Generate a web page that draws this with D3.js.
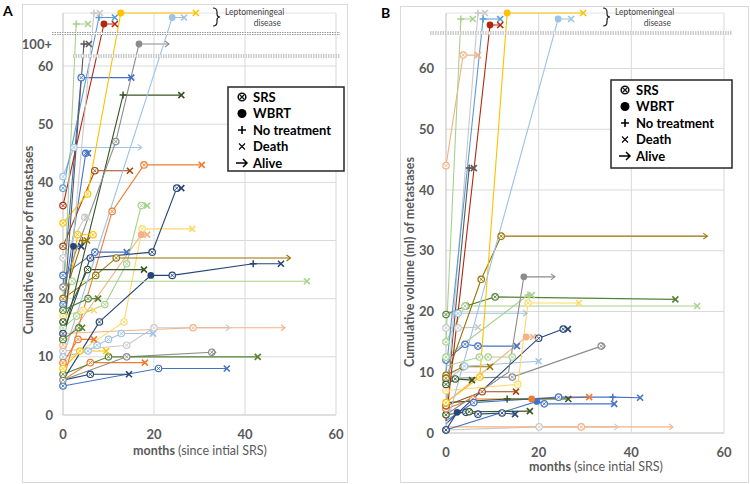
<!DOCTYPE html>
<html>
<head>
<meta charset="utf-8">
<script src="https://cdn.jsdelivr.net/npm/d3@7"></script>
<style>
body { margin: 0; background: #fff; }
svg { display: block; font-family: Lato, "Open Sans", sans-serif; }
</style>
</head>
<body>
<script>
// colour keys used by the series
var palette = {
  BL: "#4472C4", LB: "#9DC3E6", MB: "#5B9BD5", DB: "#264478",
  OR: "#ED7D31", PO: "#F4B183", BR: "#9E480E", RD: "#B4260C",
  GR: "#8C8C8C", LG: "#C9C9C9", DG: "#595959",
  GO: "#FFC000", PG: "#FFD966", DGo: "#997300",
  GN: "#548235", LGN: "#A9D18E", DGN: "#375623"
}

// y codes above the break: 100 = "100+", 180/190/200 = leptomeningeal rows
var monthTicks = [0, 20, 40, 60]
var valueTicks = [0, 10, 20, 30, 40, 50, 60]
var legendItems = ["SRS", "WBRT", "No treatment", "Death", "Alive"]
var legendKeys = ["s", "w", "p", "x", "a"]

// panel A : cumulative number of metastases  [month, value, marker]
var pathsA = [
  [[0,5,"s"],[21,8,"s"],[36,8,"x"]],
  [[0,6,""],[6,7,"s"],[14.5,7,"x"]],
  [[0,6,""],[6,9,"s"],[18,9,"x"]],
  [[0,6,"s"],[14,10,"s"],[32.7,10.8,"sa"]],
  [[0,7,"s"],[10,10,"s"],[42.8,10,"x"]],
  [[0,11,"s"],[14,12,"s"],[20,15,"s"],[36.7,15,"a"]],
  [[0,14,"s"],[28.6,15,"s"],[48.8,15,"a"]],
  [[0,10,"s"],[5.5,11,"s"],[7.5,12,"s"],[10,13,"s"],[12.8,14,"s"],[19.8,14,"x"]],
  [[0,9,"s"],[3.3,13,"s"],[6.8,13,"x"]],
  [[0,8,"s"],[3.7,11,"s"],[9.5,11,"x"]],
  [[0,17,"s"],[4.4,18,"s"],[6.8,18,"x"]],
  [[0,9,""],[13.4,16,"s"],[17.4,32,"s"],[28.4,32,"x"]],
  [[0,12,"s"],[17.2,31,"w"],[18.5,31,"x"]],
  [[0,15,"s"],[3,17,"s"],[9.2,19,"s"],[14,26,"s"],[17.2,36,"s"],[18.5,36,"x"]],
  [[0,6,""],[10.8,35,"s"],[17.8,43,"s"],[30.5,43,"x"]],
  [[0,6,""],[8,16,"s"],[19.3,24,"w"],[24,24,"s"],[41.8,26,"p"],[47.9,26,"x"]],
  [[0,14,"s"],[6,27,"s"],[19.6,28,"s"],[25,39,"s"],[26,39,"x"]],
  [[0,24,"s"],[7,28,"s"],[14,28,"x"]],
  [[0,20,"s"],[7.2,24,"s"],[11.7,27,"s"],[50,27,"a"]],
  [[0,16,"s"],[5.4,25,"s"],[17.8,25,"x"]],
  [[0,20,""],[2,23,"s"],[53.6,23,"x"]],
  [[0,19,"s"],[5,45,"s"],[5.5,45,"x"]],
  [[0,41,"s"],[2.4,46,"s"],[17.3,46,"a"]],
  [[0,22,""],[4,58,"s"],[15,58,"x"]],
  [[0,13,"s"],[13.2,55,"p"],[26,55,"x"]],
  [[0,29,"s"],[7,42,"s"],[14.7,42,"x"]],
  [[0,36,"s"],[9,180,"w"],[11.4,180,"x"]],
  [[0,39,"s"],[7.9,190,"p"],[11.4,190,"x"]],
  [[0,33,"s"],[5.4,38,"s"],[12.7,200,"w"],[29.2,200,"x"]],
  [[0,27,"s"],[4.8,34,"s"],[5.3,34,"x"]],
  [[0,11,""],[6.8,200,"p"],[8.1,200,"x"]],
  [[0,15,""],[3.2,31,"s"],[6.6,31,"s"]],
  [[0,20,""],[4.3,30,"p"],[5.3,30,"x"]],
  [[0,14,""],[2.3,29,"w"],[4,29,"x"]],
  [[0,22,"s"],[11.6,47,"s"],[16.7,100,"w"],[23.3,100,"a"]],
  [[0,16,""],[4.6,100,"p"],[5.7,100,"x"]],
  [[0,18,"s"],[2.9,180,"p"],[5.5,180,"x"]],
  [[0,10,""],[24,190,"w"],[26.6,190,"x"]],
  [[0,13,"s"],[3.5,15,"s"],[4.2,15,"x"]],
  [[0,18,"s"],[5.5,20,"s"],[7.7,20,"x"]]
]
var coloursA = ["BL","DB","OR","GR","GN","LG","PO","LB","OR","GO",
  "PG","PG","PO","LGN","OR","DB","DB","BL","DGo","DGN",
  "LGN","BL","LB","BL","DGN","BR","RD","MB","GO","LG",
  "LG","GO","DGo","DB","GR","DG","LGN","LB","GN","GN"]

// panel B : cumulative volume (ml)  [month, value, marker]
var pathsB = [
  [[0,0.5,""],[20.1,1,"s"],[37.2,1,"a"]],
  [[0,1,""],[29.2,1,"s"],[49,1,"a"]],
  [[0,0.5,"s"],[19.6,5.2,"w"],[21.2,4.8,"s"],[36.3,4.8,"x"]],
  [[0,0.5,"s"],[2.4,3.4,"w"],[4.3,3.4,"s"],[6.9,3.1,"s"],[12.1,3.3,"s"],[14.9,3.1,"x"]],
  [[0,3,"s"],[5,3.5,"s"],[18.1,3.6,"x"]],
  [[0,4,"s"],[5.8,5.6,"s"],[18.5,5.6,"w"],[30.9,5.9,"x"]],
  [[0,2,""],[6,5,"s"],[24.3,5.9,"s"],[36,5.9,"p"],[41.9,5.8,"x"]],
  [[0,5,""],[13.2,5.6,"p"],[26.4,5.6,"x"]],
  [[0,4.5,"s"],[7.8,6.8,"s"],[15.1,6.8,"x"]],
  [[0,9.5,"s"],[3.7,10.9,"s"],[9.5,10.9,"x"]],
  [[0,12,"s"],[4.1,14.6,"s"],[6.9,14.3,"s"],[15.3,14.3,"x"]],
  [[0,8.5,"s"],[4,11,"s"],[20,11.8,"x"]],
  [[0,9,"s"],[14.3,9.2,"s"],[33.5,14.3,"sa"]],
  [[0,1.5,""],[20,15.6,"s"],[25.3,17.1,"s"],[26.3,17.1,"x"]],
  [[0,5,""],[17.3,15.8,"w"],[18.8,15.8,"x"]],
  [[0,17.3,"s"],[2.6,17.3,"s"],[6.9,17.4,"x"]],
  [[0,19.5,""],[2.6,19.7,"s"],[17.5,19.7,"a"]],
  [[0,19.5,"s"],[4.3,20.9,"s"],[10.6,22.4,"s"],[49.5,22,"x"]],
  [[0,15,"s"],[4.1,20.9,"s"],[54.2,20.9,"x"]],
  [[0,7,"s"],[15.5,8,"s"],[17.7,21.4,"s"],[28.7,21.4,"x"]],
  [[0,12.5,"s"],[17.7,22.7,"p"],[18.5,22.7,"x"]],
  [[0,9,"s"],[7.6,25.3,"s"],[11.9,32.4,"s"],[56.4,32.4,"a"]],
  [[0,3,""],[13.5,10,""],[16.8,25.7,"w"],[23.5,25.7,"a"]],
  [[0,44,"s"],[3.7,62.2,"s"],[6.9,62.2,"x"]],
  [[0,4,""],[5,43.6,"p"],[6,43.6,"x"]],
  [[0,4,""],[6.9,200,"p"],[8.4,200,"x"]],
  [[0,5,"s"],[7.3,9.2,"s"],[13.2,200,"w"],[29.6,200,"x"]],
  [[0,15,""],[3.2,190,"p"],[5.8,190,"x"]],
  [[0,10,""],[8,190,"p"],[11.7,190,"x"]],
  [[0,1,""],[24.2,190,"w"],[27,190,"x"]],
  [[0,2,""],[9.5,180,"w"],[11.7,180,"x"]],
  [[0,8,"s"],[2,8.9,"s"],[5.6,8.7,"x"]],
  [[0,11,""],[7.2,12.5,"s"],[9.1,12.5,"s"],[14.3,12.5,"s"]]
]
var coloursB = ["LG","PO","BL","DB","DGN","OR","BL","DGN","BR","DGo",
  "BL","LB","GR","DB","PO","LG","LB","GN","LGN","PG",
  "LGN","DGo","GR","PO","DG","LG","GO","LGN","MB","LB",
  "RD","DGN","LGN"]

var W = 750, H = 484
var svg = d3.select("body").append("svg").attr("width", W).attr("height", H)

var txtCol = "#595959"

function marker(g, k, cx, cy, col) {
  if (k.indexOf("s") >= 0) {
    g.append("circle").attr("cx", cx).attr("cy", cy).attr("r", 3.2)
      .attr("fill", "#fff").attr("stroke", col).attr("stroke-width", 1.2)
    g.append("path").attr("d", "M" + (cx-1.7) + "," + (cy-1.7) + "L" + (cx+1.7) + "," + (cy+1.7) +
      "M" + (cx-1.7) + "," + (cy+1.7) + "L" + (cx+1.7) + "," + (cy-1.7))
      .attr("stroke", col).attr("stroke-width", 0.9)
  }
  if (k.indexOf("w") >= 0) {
    g.append("circle").attr("cx", cx).attr("cy", cy).attr("r", 3.4).attr("fill", col)
  }
  if (k.indexOf("p") >= 0) {
    g.append("path").attr("d", "M" + (cx-3.5) + "," + cy + "h7M" + cx + "," + (cy-3.5) + "v7")
      .attr("stroke", col).attr("stroke-width", 1.5)
  }
  if (k.indexOf("x") >= 0) {
    g.append("path").attr("d", "M" + (cx-3) + "," + (cy-3) + "l6,6M" + (cx-3) + "," + (cy+3) + "l6,-6")
      .attr("stroke", col).attr("stroke-width", 1.6)
  }
  if (k.indexOf("a") >= 0) {
    var ax = k.indexOf("s") >= 0 ? cx + 4 : cx
    g.append("path").attr("d", "M" + (ax-4) + "," + (cy-3) + "L" + ax + "," + cy + "L" + (ax-4) + "," + (cy+3))
      .attr("fill", "none").attr("stroke", col).attr("stroke-width", 1.1)
  }
}

function breakLine(g, x1, x2, y) {
  g.append("rect").attr("x", x1).attr("y", y - 1.5).attr("width", x2 - x1).attr("height", 3).attr("fill", "#fff")
  ;[y - 1, y + 1].forEach(function(yy) {
    g.append("line").attr("x1", x1).attr("x2", x2).attr("y1", yy).attr("y2", yy)
      .attr("stroke", "#9a9a9a").attr("stroke-width", 1).attr("stroke-dasharray", "1.5,1")
  })
}

function panel(opt) {
  var g = svg.append("g")
  var x = opt.x, y = opt.y
  var top = 13

  g.append("rect").attr("x", opt.frame[0]).attr("y", opt.frame[1])
    .attr("width", opt.frame[2]).attr("height", opt.frame[3])
    .attr("fill", "none").attr("stroke", "#D9D9D9")

  // grid
  valueTicks.forEach(function(v) {
    g.append("line").attr("x1", x(0)).attr("x2", x(60)).attr("y1", y(v)).attr("y2", y(v))
      .attr("stroke", v == 0 ? "#BFBFBF" : "#D9D9D9")
  })
  g.append("line").attr("x1", x(0)).attr("x2", x(60)).attr("y1", top).attr("y2", top).attr("stroke", "#E3E3E3")
  monthTicks.forEach(function(m) {
    g.append("line").attr("x1", x(m)).attr("x2", x(m)).attr("y1", top).attr("y2", y(0))
      .attr("stroke", m == 0 ? "#BFBFBF" : "#D9D9D9")
  })

  // tick labels
  valueTicks.forEach(function(v) {
    g.append("text").attr("x", opt.tickX).attr("y", y(v)).attr("dy", "0.35em")
      .attr("text-anchor", "end").attr("font-size", 13).attr("font-weight", "bold")
      .attr("fill", txtCol).text(v)
  })
  monthTicks.forEach(function(m) {
    g.append("text").attr("x", x(m)).attr("y", y(0) + 19).attr("dy", "0.35em")
      .attr("text-anchor", "middle").attr("font-size", 13).attr("font-weight", "bold")
      .attr("fill", txtCol).text(m)
  })

  // series
  var line = d3.line().x(function(d) { return x(d[0]) }).y(function(d) { return y(d[1]) })
  var lines = g.append("g"), marks = g.append("g")
  opt.paths.forEach(function(p, i) {
    var col = palette[opt.colours[i]]
    lines.append("path").attr("d", line(p)).attr("fill", "none")
      .attr("stroke", col).attr("stroke-width", 1.1)
    p.forEach(function(d) { if (d[2]) marker(marks, d[2], x(d[0]), y(d[1]), col) })
  })

  opt.breaks.forEach(function(b) { breakLine(g, b[0], b[1], b[2]) })

  // leptomeningeal note
  var bx = opt.brace
  g.append("path").attr("d", "M" + bx + ",8 q4,0 4,4 v2 q0,3 3,3 q-3,0 -3,3 v2 q0,4 -4,4")
    .attr("fill", "none").attr("stroke", "#222").attr("stroke-width", 1.2)
  g.append("text").attr("x", bx + 12).attr("y", 15).attr("font-size", 8.5).attr("fill", "#444")
    .text("Leptomeningeal")
  g.append("text").attr("x", bx + 68).attr("y", 26).attr("font-size", 8.5).attr("fill", "#444")
    .attr("text-anchor", "end").text("disease")

  // axis titles
  g.append("text").attr("transform", "translate(" + opt.titleX + "," + opt.titleY + ") rotate(-90)")
    .attr("text-anchor", "middle").attr("font-size", 12.5).attr("font-weight", "bold")
    .attr("fill", txtCol).text(opt.yTitle)
  var xt = g.append("text").attr("x", opt.xTitle[0]).attr("y", opt.xTitle[1])
    .attr("text-anchor", "middle").attr("font-size", 12.5).attr("fill", txtCol)
  xt.append("tspan").attr("font-weight", "bold").text("months")
  xt.append("tspan").text(" (since intial SRS)")

  g.append("text").attr("x", opt.letter[0]).attr("y", opt.letter[1])
    .attr("font-size", 14).attr("font-weight", "bold").attr("fill", "#000").text(opt.name)

  // legend
  var L = opt.legend
  g.append("rect").attr("x", L[0]).attr("y", L[1]).attr("width", L[2]).attr("height", L[3])
    .attr("fill", "#fff").attr("stroke", "#262626").attr("stroke-width", 1.5)
  legendItems.forEach(function(t, i) {
    var ly = L[1] + 10 + i * 16.5, ix = L[0] + 14
    var k = legendKeys[i]
    if (k == "s") {
      g.append("circle").attr("cx", ix).attr("cy", ly).attr("r", 3.8).attr("fill", "#fff")
        .attr("stroke", "#111").attr("stroke-width", 1.6)
      g.append("path").attr("d", "M" + (ix-2) + "," + (ly-2) + "l4,4M" + (ix-2) + "," + (ly+2) + "l4,-4")
        .attr("stroke", "#111").attr("stroke-width", 1.2)
    } else if (k == "w") {
      g.append("circle").attr("cx", ix).attr("cy", ly).attr("r", 4.5).attr("fill", "#000")
    } else if (k == "p") {
      g.append("path").attr("d", "M" + (ix-4) + "," + ly + "h8M" + ix + "," + (ly-4) + "v8")
        .attr("stroke", "#000").attr("stroke-width", 1.6)
    } else if (k == "x") {
      g.append("path").attr("d", "M" + (ix-3) + "," + (ly-3) + "l6,6M" + (ix-3) + "," + (ly+3) + "l6,-6")
        .attr("stroke", "#000").attr("stroke-width", 1.1)
    } else {
      g.append("path").attr("d", "M" + (ix-6) + "," + ly + "h11M" + (ix+1) + "," + (ly-4) + "L" + (ix+5) + "," + ly + "L" + (ix+1) + "," + (ly+4))
        .attr("fill", "none").attr("stroke", "#000").attr("stroke-width", 1.5)
    }
    g.append("text").attr("x", L[0] + 25).attr("y", ly).attr("dy", "0.35em")
      .attr("font-size", 13).attr("font-weight", "bold").attr("fill", "#000").text(t)
  })
}

var xA = d3.scaleLinear().domain([0, 60]).range([63, 336])
var yA = d3.scaleLinear().domain([0, 60, 100, 180, 190, 200]).range([415, 66, 44, 24, 17.5, 13])
var xB = d3.scaleLinear().domain([0, 60]).range([446, 724])
var yB = d3.scaleLinear().domain([0, 66, 180, 190, 200]).range([433, 32, 25, 19, 13])

panel({
  name: "A", x: xA, y: yA, paths: pathsA, colours: coloursA,
  frame: [22.5, 4.5, 325, 478], tickX: 53,
  breaks: [[52, 340, 33.5], [73, 340, 56]],
  brace: 213, titleX: 33, titleY: 240, yTitle: "Cumulative number of metastases",
  xTitle: [200, 455], letter: [3, 16], legend: [228, 87, 116, 84]
})
svg.append("text").attr("x", 52).attr("y", yA(100)).attr("dy", "0.35em")
  .attr("text-anchor", "end").attr("font-size", 13).attr("font-weight", "bold")
  .attr("fill", txtCol).text("100+")

panel({
  name: "B", x: xB, y: yB, paths: pathsB, colours: coloursB,
  frame: [400.5, 6.5, 348, 476], tickX: 434,
  breaks: [[430, 732, 33]],
  brace: 603, titleX: 414, titleY: 262, yTitle: "Cumulative volume (ml) of metastases",
  xTitle: [596, 471], letter: [381, 18], legend: [611, 80, 121, 88]
})
</script>
</body>
</html>
